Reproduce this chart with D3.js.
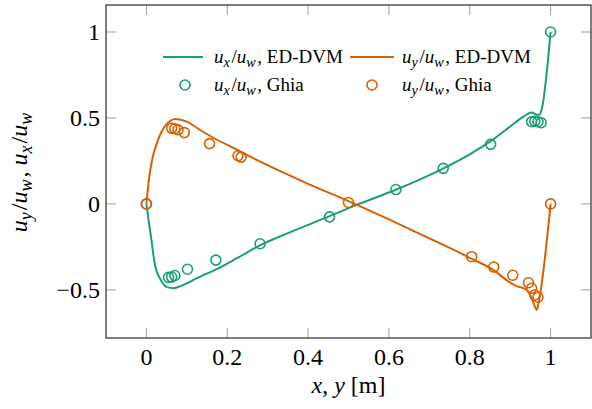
<!DOCTYPE html>
<html>
<head>
<meta charset="utf-8">
<script src="https://cdn.jsdelivr.net/npm/d3@7"></script>
<style>
  html, body { margin: 0; padding: 0; background: #fff; }
  svg text { font-family: "Liberation Serif", "DejaVu Serif", serif; fill: #000; }
</style>
</head>
<body>
<svg id="chart" width="592" height="409"></svg>
<script>
// ---------- data ----------
const xTicks = [0, 0.2, 0.4, 0.6, 0.8, 1];
const yTicks = [-0.5, 0, 0.5, 1];
const xTickLabels = ["0", "0.2", "0.4", "0.6", "0.8", "1"];
const yTickLabels = ["\u22120.5", "0", "0.5", "1"];

// ED-DVM u_x/u_w along vertical centreline
const edUxPos = [0, 0.005, 0.01, 0.022, 0.035, 0.051, 0.068, 0.092, 0.125, 0.175, 0.224, 0.282, 0.35, 0.455, 0.52, 0.62, 0.735, 0.801, 0.85, 0.9, 0.933, 0.953, 0.965, 0.972, 0.978, 1];
const edUxVal = [0, -0.09, -0.17, -0.364, -0.44, -0.484, -0.49, -0.471, -0.432, -0.378, -0.316, -0.24, -0.17, -0.07, -0.006, 0.085, 0.207, 0.29, 0.362, 0.45, 0.508, 0.531, 0.52, 0.518, 0.55, 1];

// ED-DVM u_y/u_w along horizontal centreline
const edUyPos = [0, 0.005, 0.014, 0.03, 0.045, 0.06, 0.072, 0.1, 0.133, 0.158, 0.224, 0.278, 0.35, 0.4, 0.504, 0.6, 0.7, 0.776, 0.801, 0.859, 0.892, 0.916, 0.933, 0.945, 0.958, 0.966, 0.97, 1];
const edUyVal = [0, 0.12, 0.256, 0.38, 0.45, 0.485, 0.494, 0.479, 0.43, 0.395, 0.315, 0.25, 0.17, 0.117, 0.012, -0.09, -0.2, -0.285, -0.315, -0.385, -0.445, -0.478, -0.49, -0.51, -0.577, -0.616, -0.58, 0];

// Ghia et al. reference (Re = 10000)
const ghiaUxPos = [0, 0.0547, 0.0625, 0.0703, 0.1016, 0.1719, 0.2813, 0.4531, 0.6172, 0.7344, 0.8516, 0.9531, 0.9609, 0.9688, 0.9766, 1.0];
const ghiaUxVal = [0, -0.42735, -0.42537, -0.41657, -0.38000, -0.32709, -0.23186, -0.07540, 0.08344, 0.20673, 0.34635, 0.47804, 0.48070, 0.47783, 0.47221, 1];
const ghiaUyPos = [0, 0.0625, 0.0703, 0.0781, 0.0938, 0.1563, 0.2266, 0.2344, 0.5, 0.8047, 0.8594, 0.9063, 0.9453, 0.9531, 0.9609, 0.9688, 1];
const ghiaUyVal = [0, 0.43983, 0.43733, 0.43124, 0.41487, 0.35070, 0.28003, 0.27224, 0.00831, -0.30719, -0.36737, -0.41496, -0.45863, -0.49099, -0.52987, -0.54302, 0];

const green = "#1b9e77";
const orange = "#d95f02";

// ---------- layout ----------
const svg = d3.select("#chart");
const L = 106, R = 591, T = 5, B = 338;
const x = d3.scaleLinear().domain([-0.1, 1.1]).range([L, R]);
const y = d3.scaleLinear().domain([-0.78, 1.157]).range([B, T]);

// ticks (inside, all four sides)
const tickLen = 10;
const tickColor = "#a0a0a0";
const gt = svg.append("g");
xTicks.forEach(v => {
  gt.append("line").attr("x1", x(v)).attr("x2", x(v)).attr("y1", B).attr("y2", B - tickLen)
    .attr("stroke", tickColor).attr("stroke-width", 1);
  gt.append("line").attr("x1", x(v)).attr("x2", x(v)).attr("y1", T).attr("y2", T + tickLen)
    .attr("stroke", tickColor).attr("stroke-width", 1);
});
yTicks.forEach(v => {
  gt.append("line").attr("x1", L).attr("x2", L + tickLen).attr("y1", y(v)).attr("y2", y(v))
    .attr("stroke", tickColor).attr("stroke-width", 1);
  gt.append("line").attr("x1", R).attr("x2", R - tickLen).attr("y1", y(v)).attr("y2", y(v))
    .attr("stroke", tickColor).attr("stroke-width", 1);
});

// tick labels
const tickFont = 24;
xTicks.forEach((v, i) => {
  svg.append("text").attr("x", x(v)).attr("y", B + 27).attr("text-anchor", "middle")
    .attr("font-size", tickFont).text(xTickLabels[i]);
});
yTicks.forEach((v, i) => {
  svg.append("text").attr("x", L - 6).attr("y", y(v) + 8).attr("text-anchor", "end")
    .attr("font-size", tickFont).text(yTickLabels[i]);
});

// frame
svg.append("rect").attr("x", L).attr("y", T).attr("width", R - L).attr("height", B - T)
  .attr("fill", "none").attr("stroke", "#3a3a3a").attr("stroke-width", 1.3);

// ---------- math text helper ----------
function mathText(sel, parts, size) {
  parts.forEach(p => {
    const [txt, kind] = p;
    const t = sel.append("tspan").text(txt);
    if (kind === "i") t.attr("font-style", "italic");
    if (kind === "sub") {
      t.attr("font-style", "italic").attr("font-size", size * 0.75).attr("dy", size * 0.22);
      sel.append("tspan").attr("dy", -size * 0.22).text("\u200A");
    }
  });
}

// axis labels
const xl = svg.append("text").attr("x", (L + R) / 2).attr("y", 393).attr("text-anchor", "middle")
  .attr("font-size", 24);
mathText(xl, [["x", "i"], [", ", "r"], ["y", "i"], [" [m]", "r"]], 24);

const yl = svg.append("text").attr("transform", `translate(27,${(T + B) / 2}) rotate(-90)`)
  .attr("text-anchor", "middle").attr("font-size", 24);
mathText(yl, [["u", "i"], ["y", "sub"], ["/", "r"], ["u", "i"], ["w", "sub"], [", ", "r"],
  ["u", "i"], ["x", "sub"], ["/", "r"], ["u", "i"], ["w", "sub"]], 24);

// ---------- curves ----------
const line = d3.line().x(d => x(d[0])).y(d => y(d[1])).curve(d3.curveMonotoneX);
const plot = svg.append("g");
plot.append("path").datum(d3.zip(edUxPos, edUxVal)).attr("d", line)
  .attr("fill", "none").attr("stroke", green).attr("stroke-width", 2);
plot.append("path").datum(d3.zip(edUyPos, edUyVal)).attr("d", line)
  .attr("fill", "none").attr("stroke", orange).attr("stroke-width", 2);

plot.selectAll("circle.gx").data(d3.zip(ghiaUxPos, ghiaUxVal)).join("circle")
  .attr("class", "gx").attr("cx", d => x(d[0])).attr("cy", d => y(d[1])).attr("r", 5)
  .attr("fill", "none").attr("stroke", green).attr("stroke-width", 1.6);
plot.selectAll("circle.gy").data(d3.zip(ghiaUyPos, ghiaUyVal)).join("circle")
  .attr("class", "gy").attr("cx", d => x(d[0])).attr("cy", d => y(d[1])).attr("r", 5)
  .attr("fill", "none").attr("stroke", orange).attr("stroke-width", 1.6);

// ---------- legend ----------
const legFont = 19;
const lg = svg.append("g");
const legItems = [
  { c: green, type: "line", x0: 163, x1: 203, tx: 214, row: 0, sub: "x", name: "ED-DVM" },
  { c: orange, type: "line", x0: 350, x1: 394, tx: 402, row: 0, sub: "y", name: "ED-DVM" },
  { c: green, type: "circle", x0: 163, x1: 207, tx: 214, row: 1, sub: "x", name: "Ghia" },
  { c: orange, type: "circle", x0: 350, x1: 394, tx: 402, row: 1, sub: "y", name: "Ghia" }
];
const rowY = [57, 85];
legItems.forEach(it => {
  const cy = rowY[it.row];
  if (it.type === "line") {
    lg.append("line").attr("x1", it.x0).attr("x2", it.x1).attr("y1", cy).attr("y2", cy)
      .attr("stroke", it.c).attr("stroke-width", 2);
  } else {
    lg.append("circle").attr("cx", (it.x0 + it.x1) / 2).attr("cy", cy).attr("r", 5)
      .attr("fill", "none").attr("stroke", it.c).attr("stroke-width", 1.6);
  }
  const t = lg.append("text").attr("x", it.tx).attr("y", cy + 6).attr("font-size", legFont);
  mathText(t, [["u", "i"], [it.sub, "sub"], ["/", "r"], ["u", "i"], ["w", "sub"], [", " + it.name, "r"]], legFont);
});
</script>
</body>
</html>
